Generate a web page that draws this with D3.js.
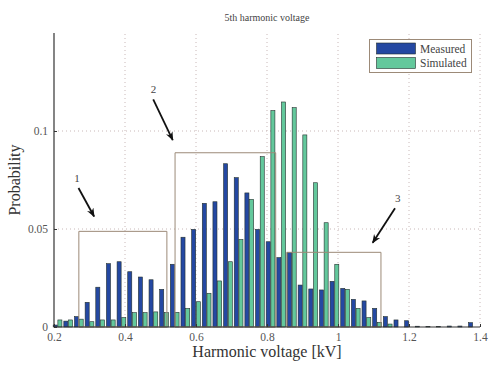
<!DOCTYPE html>
<html>
<meta charset="utf-8">
<style>
body { margin: 0; background: #fff; }
text { font-family: "Liberation Serif", "DejaVu Serif", serif; }
.grid line { stroke: #c9b8b8; stroke-dasharray: 1,3; }
</style>
<body>
<svg id="chart" width="497" height="365"></svg>
<script src="https://cdn.jsdelivr.net/npm/d3@7"></script>
<script>
// bin centres (kV) and probabilities
var binStart = 0.21, binStep = 0.03, binCount = 40;
var measured = [0.001, 0.003, 0.0053, 0.0126, 0.0203, 0.0323, 0.0333, 0.0282, 0.0255, 0.0241,
  0.0192, 0.032, 0.0458, 0.0498, 0.0631, 0.0639, 0.0833, 0.0762, 0.0684, 0.0498,
  0.0435, 0.0354, 0.0381, 0.0214, 0.0194, 0.0189, 0.0233, 0.0197, 0.0141, 0.0133,
  0.0095, 0.0053, 0.0036, 0.0032, 0.0004, 0.0002, 0.0002, 0.0005, 0.0005, 0.0022];
var simulated = [0.0036, 0.0036, 0.004, 0.0027, 0.0036, 0.0036, 0.0048, 0.0073, 0.0073, 0.0077,
  0.0073, 0.0075, 0.0095, 0.0129, 0.0172, 0.0235, 0.0333, 0.0446, 0.0651, 0.0869,
  0.1104, 0.1148, 0.1119, 0.098, 0.0736, 0.0532, 0.032, 0.0192, 0.0095, 0.0048,
  0.0024, 0.0015, 0, 0, 0, 0, 0, 0, 0, 0];
var xTicks = [0.2, 0.4, 0.6, 0.8, 1, 1.2, 1.4];
var yTicks = [0, 0.05, 0.1];
var seriesNames = ["Measured", "Simulated"];
// annotation boxes: [x0, x1, top]
var boxes = [[0.27, 0.518, 0.0488], [0.541, 0.8245, 0.0889], [0.8555, 1.121, 0.0381]];
// arrows: label, label position, arrow start, arrow end (data units)
var arrows = [
  {label: "1", lx: 0.265, ly: 0.074, x0: 0.269, y0: 0.0709, x1: 0.313, y1: 0.0564},
  {label: "2", lx: 0.480, ly: 0.1192, x0: 0.4795, y0: 0.1161, x1: 0.5345, y1: 0.0954},
  {label: "3", lx: 1.168, ly: 0.0639, x0: 1.1606, y0: 0.0606, x1: 1.0977, y1: 0.043}
];

var bins = d3.range(binCount).map(function(i) { return +(binStart + i * binStep).toFixed(3); });

var svg = d3.select("#chart");
var x = d3.scaleLinear().domain([0.2, 1.4]).range([54, 480]);
var y = d3.scaleLinear().domain([0, 0.15]).range([327, 33]);
var colors = ["#2448a2", "#63c89c"];

// grid
var grid = svg.append("g").attr("class", "grid");
grid.selectAll(".vx").data(xTicks.slice(1)).enter().append("line")
  .attr("x1", function(d) { return x(d); }).attr("x2", function(d) { return x(d); })
  .attr("y1", y(0)).attr("y2", y(0.15));
grid.selectAll(".hy").data(yTicks.slice(1)).enter().append("line")
  .attr("x1", x(0.2)).attr("x2", x(1.4))
  .attr("y1", function(d) { return y(d); }).attr("y2", function(d) { return y(d); });

// bars
var bw = x(binStep) - x(0);
var barW = bw * 0.38;
[measured, simulated].forEach(function(vals, s) {
  var off = s === 0 ? -0.22 * bw : 0.22 * bw;
  svg.append("g").selectAll("rect").data(vals).enter().append("rect")
    .attr("x", function(d, i) { return x(bins[i]) + off - barW / 2; })
    .attr("width", barW)
    .attr("y", function(d) { return y(d); })
    .attr("height", function(d) { return y(0) - y(d); })
    .attr("fill", colors[s])
    .attr("stroke", "#24302e")
    .attr("stroke-width", 0.6);
});

// annotation boxes
svg.append("g").selectAll("path").data(boxes).enter().append("path")
  .attr("d", function(b) {
    return "M" + x(b[0]) + "," + y(0) + "V" + y(b[2]) + "H" + x(b[1]) + "V" + y(0) + "Z";
  })
  .attr("fill", "none").attr("stroke", "#9c8a78").attr("stroke-width", 1);

// axes
var xAxis = svg.append("g").attr("transform", "translate(0," + y(0) + ")")
  .call(d3.axisBottom(x).tickValues(xTicks).tickSize(-3).tickPadding(6)
    .tickFormat(function(d) { return String(d); }));
var yAxis = svg.append("g").attr("transform", "translate(" + x(0.2) + ",0)")
  .call(d3.axisLeft(y).tickValues(yTicks).tickSize(-3).tickPadding(6)
    .tickFormat(function(d) { return String(d); }));
[xAxis, yAxis].forEach(function(a) {
  a.select(".domain").attr("stroke", "#333").attr("stroke-width", 1.2);
  a.selectAll(".tick line").attr("stroke", "#333");
  a.selectAll("text").attr("fill", "#555").style("font-size", "11.5px")
    .style("font-family", "'Liberation Serif', serif");
});
yAxis.select(".domain").attr("d", "M0," + y(0.15) + "V" + y(0));
xAxis.select(".domain").attr("d", "M" + x(0.2) + ",0H" + x(1.4));

// arrows
var defs = svg.append("defs");
defs.append("marker").attr("id", "ah").attr("viewBox", "0 0 10 10")
  .attr("refX", 9).attr("refY", 5).attr("markerWidth", 5).attr("markerHeight", 5)
  .attr("orient", "auto")
  .append("path").attr("d", "M0,1L10,5L0,9L3,5Z").attr("fill", "#111");
arrows.forEach(function(a) {
  svg.append("line")
    .attr("x1", x(a.x0)).attr("y1", y(a.y0)).attr("x2", x(a.x1)).attr("y2", y(a.y1))
    .attr("stroke", "#111").attr("stroke-width", 1.8).attr("marker-end", "url(#ah)");
  svg.append("text").attr("x", x(a.lx)).attr("y", y(a.ly))
    .attr("text-anchor", "middle").attr("fill", "#444").style("font-size", "11px")
    .text(a.label);
});

// legend
var leg = svg.append("g");
leg.append("rect").attr("x", 369.5).attr("y", 39.5).attr("width", 102).attr("height", 33)
  .attr("fill", "#fff").attr("stroke", "#9c8a78");
seriesNames.forEach(function(n, i) {
  leg.append("rect").attr("x", 376.5).attr("y", 43 + i * 14.5).attr("width", 39).attr("height", 11)
    .attr("fill", colors[i]).attr("stroke", "#24302e").attr("stroke-width", 0.6);
  leg.append("text").attr("x", 420).attr("y", 52.5 + i * 14.5)
    .attr("fill", "#444").style("font-size", "11.5px").text(n);
});

// titles
svg.append("text").attr("x", (x(0.2) + x(1.4)) / 2).attr("y", 21)
  .attr("text-anchor", "middle").attr("fill", "#444").style("font-size", "10px")
  .text("5th harmonic voltage");
svg.append("text").attr("x", (x(0.2) + x(1.4)) / 2).attr("y", 357)
  .attr("text-anchor", "middle").attr("fill", "#333").style("font-size", "16px")
  .text("Harmonic voltage [kV]");
svg.append("text").attr("transform", "translate(20," + (y(0.075)) + ") rotate(-90)")
  .attr("text-anchor", "middle").attr("fill", "#333").style("font-size", "16px")
  .text("Probability");
</script>
</body>
</html>
